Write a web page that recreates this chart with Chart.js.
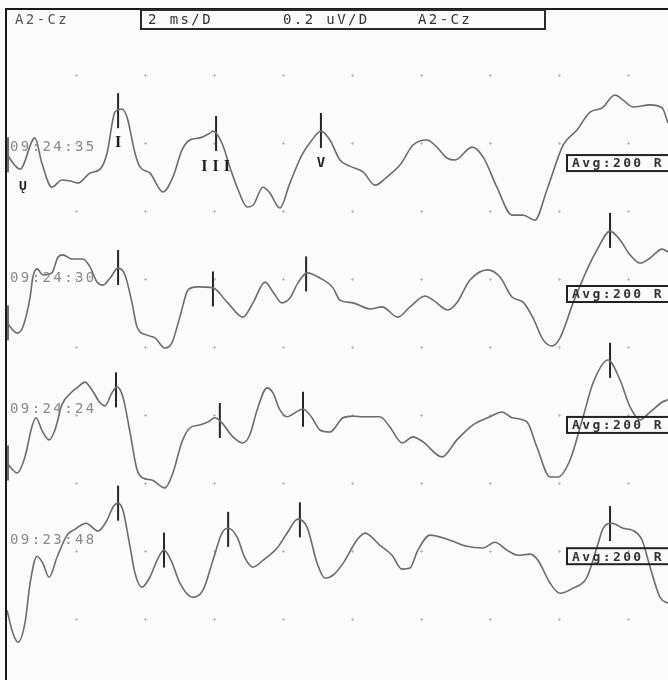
<!DOCTYPE html>
<html>
<head>
<meta charset="utf-8">
<script src="https://cdn.jsdelivr.net/npm/chart.js@4/dist/chart.umd.min.js"></script>
<style>
  body { margin: 0; background: #fbfbfb; }
  #wrap { width: 668px; height: 680px; }
</style>
</head>
<body>
<div id="wrap"><canvas id="abr"></canvas></div>
<script>
// ABR sweeps, time in ms, amplitude in uV relative to each sweep's own baseline
const sweepTimes = ["09:24:35", "09:24:30", "09:24:24", "09:23:48"];

const t1 = [0, 0.38, 0.81, 1.01, 1.30, 1.59, 1.83, 2.06, 2.41, 2.70, 2.90, 3.13, 3.33, 3.48, 3.71, 3.86, 4.14, 4.52, 4.81, 5.07, 5.30, 5.59, 5.88, 5.97, 6.23, 6.46, 6.67, 6.96, 7.13, 7.42, 7.62, 7.91, 8.20, 8.55, 8.84, 9.10, 9.36, 9.65, 9.94, 10.32, 10.67, 11.01, 11.39, 11.77, 12.17, 12.46, 12.75, 12.99, 13.48, 13.80, 14.20, 14.64, 14.96, 15.30, 15.65, 16.12, 16.52, 16.90, 17.25, 17.62, 17.86, 18.14, 18.64, 18.99, 19.16];
const a1 = [0.024, -0.018, 0.074, 0, -0.071, -0.050, -0.053, -0.059, -0.029, -0.018, 0.029, 0.150, 0.159, 0.135, 0.029, -0.012, -0.029, -0.085, -0.041, 0.038, 0.068, 0.074, 0.088, 0.094, 0.059, -0.012, -0.071, -0.129, -0.124, -0.071, -0.088, -0.132, -0.059, 0.024, 0.068, 0.094, 0.068, 0.009, -0.009, -0.026, -0.065, -0.041, -0.006, 0.053, 0.068, 0.047, 0.015, 0.009, 0.047, 0.018, -0.071, -0.153, -0.153, -0.168, -0.079, 0.053, 0.097, 0.150, 0.162, 0.200, 0.185, 0.165, 0.171, 0.162, 0.118];

const t2 = [0, 0.29, 0.46, 0.67, 0.75, 0.87, 1.04, 1.30, 1.48, 1.62, 1.88, 2.20, 2.41, 2.61, 2.78, 2.99, 3.22, 3.42, 3.62, 3.77, 4.06, 4.29, 4.58, 4.78, 5.01, 5.25, 5.51, 5.97, 6.38, 6.84, 7.13, 7.48, 7.71, 7.97, 8.20, 8.43, 8.70, 9.07, 9.45, 9.65, 10.03, 10.52, 10.87, 11.33, 11.68, 12.12, 12.35, 12.78, 13.04, 13.42, 13.94, 14.29, 14.64, 14.96, 15.25, 15.54, 15.80, 16.03, 16.41, 16.81, 17.10, 17.48, 17.77, 18.06, 18.35, 18.64, 18.99, 19.16];
const a2 = [-0.085, -0.115, -0.097, -0.009, 0.050, 0.074, 0.056, 0.062, 0.109, 0.115, 0.103, 0.103, 0.079, 0.035, 0.026, 0.047, 0.076, 0.056, -0.024, -0.097, -0.121, -0.129, -0.159, -0.144, -0.068, 0.012, 0.021, 0.018, -0.024, -0.068, -0.026, 0.035, 0.006, -0.026, -0.012, 0.032, 0.062, 0.047, 0.018, -0.018, -0.026, -0.044, -0.038, -0.068, -0.038, -0.006, -0.018, -0.047, -0.026, 0.041, 0.071, 0.050, -0.009, -0.024, -0.071, -0.135, -0.153, -0.129, -0.026, 0.071, 0.129, 0.185, 0.159, 0.115, 0.091, 0.106, 0.132, 0.124];

const t3 = [0, 0.29, 0.52, 0.72, 0.84, 1.01, 1.22, 1.39, 1.59, 1.88, 2.06, 2.26, 2.46, 2.70, 2.84, 3.04, 3.19, 3.36, 3.57, 3.77, 3.94, 4.20, 4.58, 4.81, 5.07, 5.30, 5.59, 5.83, 6.03, 6.23, 6.55, 6.84, 7.04, 7.25, 7.54, 7.71, 7.91, 8.12, 8.29, 8.58, 8.84, 9.07, 9.36, 9.74, 10.03, 10.32, 10.81, 11.10, 11.45, 11.77, 12.06, 12.61, 13.04, 13.51, 14.00, 14.35, 14.64, 15.07, 15.36, 15.74, 15.97, 16.32, 16.70, 16.99, 17.42, 17.77, 18.06, 18.35, 18.64, 19.01, 19.16];
const a3 = [-0.112, -0.141, -0.094, -0.006, 0.021, -0.015, -0.044, -0.015, 0.059, 0.097, 0.112, 0.126, 0.103, 0.065, 0.056, 0.094, 0.112, 0.082, -0.024, -0.132, -0.156, -0.162, -0.185, -0.141, -0.050, -0.009, 0, 0.009, 0.021, 0.006, -0.035, -0.053, -0.029, 0.044, 0.109, 0.094, 0.044, 0.024, 0.032, 0.047, 0.021, -0.015, -0.021, 0.021, 0.026, 0.024, 0.024, -0.006, -0.053, -0.035, -0.050, -0.094, -0.044, 0, 0.024, 0.038, 0.021, 0.009, -0.065, -0.153, -0.153, -0.103, 0.024, 0.124, 0.191, 0.132, 0.053, 0.015, 0.038, 0.068, 0.074];

const t4 = [0, 0.17, 0.32, 0.52, 0.67, 0.87, 1.04, 1.22, 1.45, 1.74, 1.97, 2.29, 2.64, 2.90, 3.07, 3.22, 3.36, 3.57, 3.71, 3.91, 4.14, 4.35, 4.55, 4.78, 5.01, 5.39, 5.68, 5.97, 6.23, 6.41, 6.67, 6.90, 7.13, 7.42, 7.83, 8.12, 8.43, 8.70, 8.99, 9.22, 9.45, 9.74, 10.14, 10.38, 10.81, 11.16, 11.45, 11.68, 11.91, 12.26, 12.84, 13.33, 13.80, 14.14, 14.49, 14.81, 15.16, 15.39, 15.74, 16.03, 16.41, 16.81, 17.10, 17.28, 17.54, 17.86, 18.14, 18.41, 18.64, 18.93, 19.16];
const a4 = [-0.159, -0.226, -0.253, -0.197, -0.079, 0, -0.021, -0.062, -0.003, 0.062, 0.079, 0.097, 0.074, 0.106, 0.144, 0.156, 0.135, 0.026, -0.050, -0.091, -0.062, -0.012, 0.018, -0.018, -0.079, -0.121, -0.100, -0.012, 0.068, 0.082, 0.056, -0.006, -0.032, -0.012, 0.024, 0.068, 0.109, 0.085, -0.021, -0.065, -0.056, -0.021, 0.047, 0.068, 0.032, 0.003, -0.038, -0.035, 0.018, 0.062, 0.047, 0.029, 0.024, 0.041, 0.018, 0.003, 0.006, -0.012, -0.079, -0.109, -0.094, -0.062, 0.026, 0.082, 0.097, 0.082, 0.076, 0.047, -0.032, -0.121, -0.138];

// peak cursors
const mark1T = [3.22, 6.06, 9.10];
const mark1A = [0.154, 0.087, 0.096];
const mark2T = [3.22, 5.97, 8.67, 17.48];
const mark2A = [0.078, 0.015, 0.059, 0.187];
const mark3T = [3.16, 6.17, 8.58, 17.48];
const mark3A = [0.103, 0.013, 0.046, 0.190];
const mark4T = [3.22, 4.55, 6.41, 8.49, 17.48];
const mark4A = [0.156, 0.018, 0.079, 0.107, 0.096];
const waveLabels = ["I", "III", "V"];

// stacking of the sweeps on the screen (uV on the display axis)
const baselines = [1.341, 0.956, 0.571, 0.185];

const traces = [[t1, a1], [t2, a2], [t3, a3], [t4, a4]];
const marks = [[mark1T, mark1A], [mark2T, mark2A], [mark3T, mark3A], [mark4T, mark4A]];

const toXY = (ts, as, base) => ts.map((t, i) => ({ x: t, y: as[i] + base }));

const datasets = [];
traces.forEach(([ts, as], k) => {
  datasets.push({
    data: toXY(ts, as, baselines[k]),
    borderColor: "#6c6c6c",
    borderWidth: 1.6,
    pointRadius: 0,
    cubicInterpolationMode: "monotone",
  });
});
marks.forEach(([ts, as], k) => {
  datasets.push({
    data: toXY(ts, as, baselines[k]),
    showLine: false,
    pointStyle: "line",
    rotation: 90,
    pointRadius: 17.5,
    pointBorderWidth: 2,
    pointBorderColor: "#262626",
    clip: false,
  });
});
// stimulus bars at t = 0 on the first three sweeps
datasets.push({
  data: [0, 1, 2].map((k) => ({ x: 0, y: traces[k][1][0] + baselines[k] })),
  showLine: false,
  pointStyle: "line",
  rotation: 90,
  pointRadius: 17.5,
  pointBorderWidth: 4,
  pointBorderColor: "#6a6a6a",
  clip: false,
});

const decor = {
  id: "decor",
  beforeDraw(chart) {
    const { ctx } = chart;
    ctx.save();
    ctx.fillStyle = "#fbfbfb";
    ctx.fillRect(0, 0, chart.width, chart.height);
    ctx.restore();
  },
  beforeDatasetsDraw(chart) {
    const { ctx, scales } = chart;
    ctx.save();
    ctx.fillStyle = "#bcbcbc";
    for (let t = 2; t <= 18; t += 2) {
      for (let v = 0; v <= 1.601; v += 0.2) {
        const x = Math.round(scales.x.getPixelForValue(t));
        const y = Math.round(scales.y.getPixelForValue(v));
        ctx.fillRect(x - 1, y, 3, 1);
        ctx.fillRect(x, y - 1, 1, 3);
      }
    }
    ctx.restore();
  },
  afterDatasetsDraw(chart) {
    const { ctx, scales, chartArea } = chart;
    ctx.save();
    // frame
    ctx.strokeStyle = "#1a1a1a";
    ctx.lineWidth = 2;
    ctx.beginPath();
    ctx.moveTo(chartArea.left - 1, chart.height);
    ctx.lineTo(chartArea.left - 1, chartArea.top);
    ctx.lineTo(chart.width, chartArea.top);
    ctx.stroke();

    // header
    ctx.strokeStyle = "#2a2a2a";
    ctx.strokeRect(141, 10, 404, 19);
    ctx.font = "14px 'DejaVu Sans Mono'";
    ctx.letterSpacing = "2.4px";
    ctx.textBaseline = "middle";
    ctx.fillStyle = "#555";
    ctx.fillText("A2-Cz", 15, 20);
    ctx.fillStyle = "#333";
    ctx.fillText("2 ms/D", 148, 20);
    ctx.fillText("0.2 uV/D", 283, 20);
    ctx.fillText("A2-Cz", 418, 20);

    // sweep time stamps and averaging boxes
    baselines.forEach((b, k) => {
      const y = scales.y.getPixelForValue(b);
      ctx.font = "14px 'DejaVu Sans Mono'";
      ctx.letterSpacing = "2.4px";
      ctx.fillStyle = "#8a8a8a";
      ctx.fillText(sweepTimes[k], 10, y - 16);

      ctx.lineWidth = 2;
      ctx.strokeStyle = "#222";
      ctx.strokeRect(567, y - 8, 140, 16);
      ctx.font = "bold 13px 'DejaVu Sans Mono'";
      ctx.letterSpacing = "2.4px";
      ctx.fillStyle = "#333";
      ctx.fillText("Avg:200 R", 572, y + 1);
    });

    // wave labels under the first sweep cursors
    ctx.letterSpacing = "0px";
    ctx.textAlign = "center";
    ctx.fillStyle = "#1e1e1e";
    ctx.font = "bold 16px 'Liberation Serif'";
    const b0 = scales.y.getPixelForValue(baselines[0]);
    const lx = mark1T.map((t) => scales.x.getPixelForValue(t));
    ctx.fillText(waveLabels[0], lx[0], b0 - 20);
    ctx.letterSpacing = "5px";
    ctx.fillText(waveLabels[1], lx[1] + 2, b0 + 4);
    ctx.letterSpacing = "0px";
    ctx.font = "bold 14px 'DejaVu Sans Mono'";
    ctx.fillText(waveLabels[2], lx[2], b0);
    ctx.font = "bold 13px 'DejaVu Sans Mono'";
    ctx.fillText("Ų", 23, b0 + 24);
    ctx.restore();
  },
};

new Chart(document.getElementById("abr"), {
  type: "line",
  data: { datasets },
  options: {
    responsive: true,
    maintainAspectRatio: false,
    animation: false,
    layout: { autoPadding: false, padding: { left: 7, top: 9, right: 0, bottom: 0 } },
    plugins: { legend: { display: false }, tooltip: { enabled: false } },
    scales: {
      x: { type: "linear", min: 0, max: 19.16, display: false },
      y: { type: "linear", min: -0.179, max: 1.794, display: false },
    },
  },
  plugins: [decor],
});
</script>
</body>
</html>
